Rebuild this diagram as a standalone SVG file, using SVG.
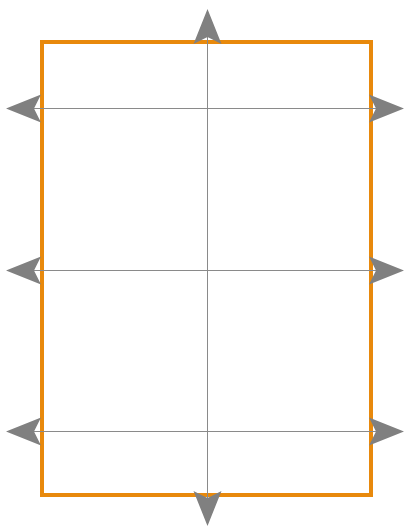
<svg xmlns="http://www.w3.org/2000/svg" width="405" height="527" viewBox="0 0 405 527">
<style>
.grid{stroke:#8a8a8a;stroke-width:1;fill:none}
.frame{fill:#ffffff;stroke:#e8890c;stroke-width:4}
.arrow{fill:#808080}
</style>
<defs>
<path id="ah" d="M0,0 L-35,-14 L-28,0 L-35,14 Z"/>
</defs>
<rect width="405" height="527" fill="#ffffff"/>
<g id="frame">
<rect class="frame" x="42" y="42" width="329" height="453"/>
</g>
<g id="connectors">
<line class="grid" x1="207.5" y1="12" x2="207.5" y2="523"/>
<line class="grid" x1="9" y1="108.5" x2="401" y2="108.5"/>
<line class="grid" x1="9" y1="270.5" x2="401" y2="270.5"/>
<line class="grid" x1="9" y1="431.5" x2="401" y2="431.5"/>
<use href="#ah" class="arrow" transform="translate(207.5,9) rotate(-90)"/>
<use href="#ah" class="arrow" transform="translate(207.5,526) rotate(90)"/>
<use href="#ah" class="arrow" transform="translate(6,108.5) rotate(180)"/>
<use href="#ah" class="arrow" transform="translate(6,270.5) rotate(180)"/>
<use href="#ah" class="arrow" transform="translate(6,431.5) rotate(180)"/>
<use href="#ah" class="arrow" transform="translate(404,108.5)"/>
<use href="#ah" class="arrow" transform="translate(404,270.5)"/>
<use href="#ah" class="arrow" transform="translate(404,431.5)"/>
</g>
</svg>
